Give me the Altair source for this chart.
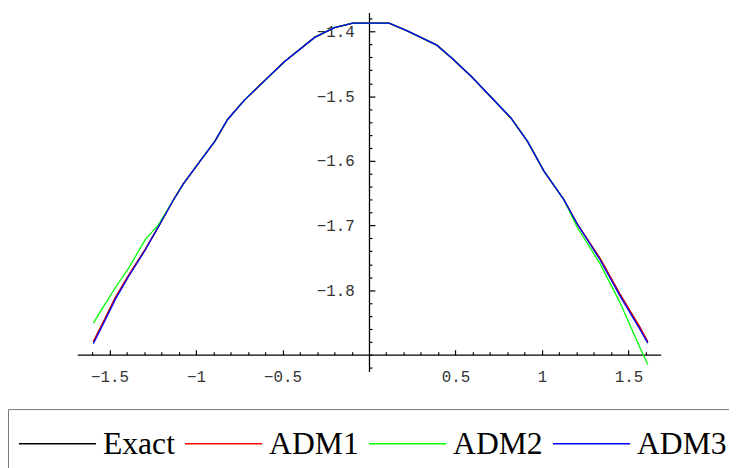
import altair as alt
import pandas as pd

# ---- data ----
x_vals = [-1.593, -1.531, -1.465, -1.389, -1.293, -1.217, -1.131, -1.074, -0.989, -0.891,
          -0.817, -0.720, -0.491, -0.314, -0.200, -0.093, 0.116, 0.221, 0.392, 0.478,
          0.593, 0.821, 0.916, 1.011, 1.126, 1.202, 1.335, 1.450, 1.564, 1.611]

adm3 = [-1.883, -1.850, -1.814, -1.779, -1.738, -1.702, -1.661, -1.636, -1.605, -1.570,
        -1.536, -1.506, -1.447, -1.409, -1.394, -1.387, -1.387, -1.399, -1.421, -1.441,
        -1.470, -1.534, -1.570, -1.616, -1.660, -1.697, -1.753, -1.809, -1.860, -1.882]

adm1 = [-1.880, -1.847, -1.811, -1.777, -1.737, -1.702, -1.661, -1.636, -1.605, -1.570,
        -1.536, -1.506, -1.447, -1.409, -1.394, -1.387, -1.387, -1.399, -1.421, -1.441,
        -1.470, -1.534, -1.570, -1.616, -1.660, -1.697, -1.751, -1.806, -1.857, -1.880]

exact = [-1.880, -1.847, -1.811, -1.777, -1.737, -1.702, -1.661, -1.636, -1.605, -1.570,
         -1.536, -1.506, -1.447, -1.409, -1.394, -1.387, -1.387, -1.399, -1.421, -1.441,
         -1.470, -1.534, -1.570, -1.616, -1.660, -1.697, -1.751, -1.806, -1.857, -1.880]

adm2 = [-1.851, -1.824, -1.796, -1.766, -1.722, -1.699, -1.661, -1.636, -1.605, -1.570,
        -1.536, -1.506, -1.447, -1.409, -1.394, -1.387, -1.387, -1.399, -1.421, -1.441,
        -1.470, -1.534, -1.570, -1.616, -1.660, -1.702, -1.759, -1.819, -1.888, -1.915]

series_names = ["Exact", "ADM1", "ADM2", "ADM3"]
series_colors = ["#000000", "#ff0000", "#00ff00", "#0000ff"]

x_major = [-1.5, -1.0, -0.5, 0.5, 1.0, 1.5]
x_minor = [-1.6, -1.4, -1.3, -1.2, -1.1, -0.9, -0.8, -0.7, -0.6, -0.4, -0.3, -0.2, -0.1,
           0.1, 0.2, 0.3, 0.4, 0.6, 0.7, 0.8, 0.9, 1.1, 1.2, 1.3, 1.4, 1.6]
y_major = [-1.4, -1.5, -1.6, -1.7, -1.8]
y_minor = [-1.38, -1.42, -1.44, -1.46, -1.48, -1.52, -1.54, -1.56, -1.58, -1.62, -1.64,
           -1.66, -1.68, -1.72, -1.74, -1.76, -1.78, -1.82, -1.84, -1.86, -1.88, -1.9, -1.92]

rows = []
for k, (name, vals) in enumerate(zip(series_names, [exact, adm1, adm2, adm3])):
    for xv, yv in zip(x_vals, vals):
        rows.append({"x": xv, "y": yv, "series": name, "k": k})
df = pd.DataFrame(rows)

# ---- layout ----
X_DOMAIN = [-1.686, 1.686]
Y_DOMAIN = [-1.926, -1.3705]
X_CROSS = 0.0      # where the y axis sits
Y_CROSS = -1.9     # where the x axis sits
W, H = 590, 363
x_axis_pix = (Y_DOMAIN[1] - Y_CROSS) / (Y_DOMAIN[1] - Y_DOMAIN[0]) * H
y_axis_pix = (X_CROSS - X_DOMAIN[0]) / (X_DOMAIN[1] - X_DOMAIN[0]) * W

xscale = alt.Scale(domain=X_DOMAIN, nice=False, zero=False)
yscale = alt.Scale(domain=Y_DOMAIN, nice=False, zero=False)

label_style = dict(labelFont="Liberation Mono", labelFontSize=16, labelColor="#333333",
                   grid=False, domain=False, ticks=False, tickSize=0, format="~g")

# legend sample line: symbol box 42 px (sets the row height), path 78 px long
SYM_R = 21.0
LINE_PATH = "M-1.143,0H2.571"
legend_sym_size = (2 * SYM_R) ** 2

lines = alt.Chart(df).mark_line(strokeWidth=1.3).encode(
    x=alt.X("x:Q", scale=xscale, title=None,
            axis=alt.Axis(orient="bottom", offset=x_axis_pix - H, values=x_major,
                          labelPadding=14, **label_style)),
    y=alt.Y("y:Q", scale=yscale, title=None,
            axis=alt.Axis(orient="left", offset=-y_axis_pix, values=y_major,
                          labelPadding=15, **label_style)),
    color=alt.Color("series:N", sort=series_names,
                    scale=alt.Scale(domain=series_names, range=series_colors),
                    legend=alt.Legend(orient="none", legendX=-70, legendY=401,
                                      direction="horizontal", columns=4, title=None,
                                      symbolType=LINE_PATH, symbolSize=legend_sym_size,
                                      symbolStrokeWidth=1.5,
                                      labelFont="Liberation Serif", labelFontSize=32,
                                      labelColor="#000000", labelOffset=39,
                                      columnPadding=6, padding=13, rowPadding=0,
                                      strokeColor="#777777", labelLimit=300)),
    order=alt.Order("x:Q"),
)


def tick_layer(xv, yv, xsize, ysize, show_domain):
    return alt.Chart(df).mark_line(strokeOpacity=0).encode(
        x=alt.X("x:Q", scale=xscale, title=None,
                axis=alt.Axis(orient="top", offset=-x_axis_pix, values=xv, labels=False,
                              grid=False, domain=show_domain, domainColor="#000000",
                              domainWidth=1.3, ticks=True, tickColor="#000000",
                              tickWidth=1.2, tickSize=xsize)),
        y=alt.Y("y:Q", scale=yscale, title=None,
                axis=alt.Axis(orient="right", offset=y_axis_pix - W, values=yv, labels=False,
                              grid=False, domain=show_domain, domainColor="#000000",
                              domainWidth=1.3, ticks=True, tickColor="#000000",
                              tickWidth=1.2, tickSize=ysize)),
        detail="series:N",
    )


major = tick_layer(x_major, y_major, 5, 6, True)
minor = tick_layer(x_minor, y_minor, 3, 3, False)

chart = alt.layer(major, minor, lines).resolve_axis(
    x="independent", y="independent"
).properties(
    width=W, height=H,
    padding={"left": 70, "top": 2, "right": 69, "bottom": 95},
    autosize=alt.AutoSizeParams(type="none"),
).configure_view(stroke=None)

chart.save("out.html", embed_options={"renderer": "svg", "actions": False})
